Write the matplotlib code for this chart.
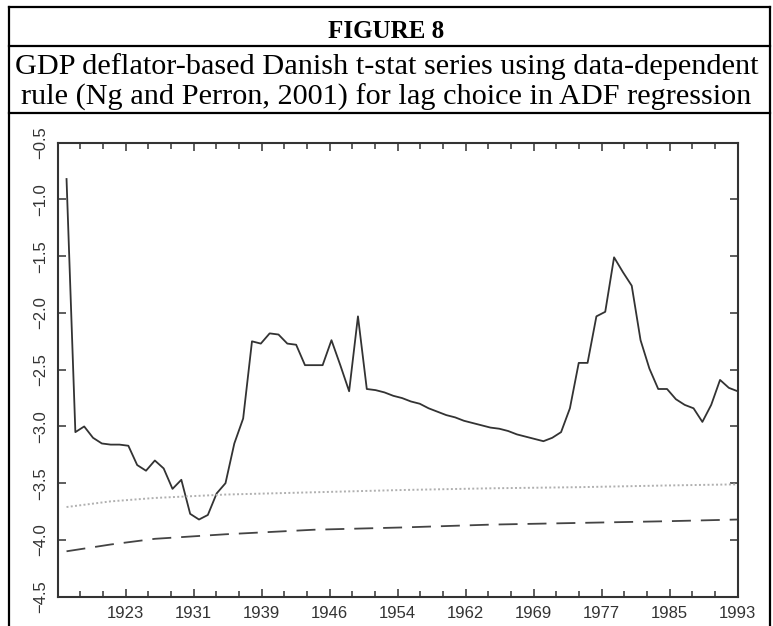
import numpy as np
import matplotlib
matplotlib.use("Agg")
import matplotlib.pyplot as plt
from matplotlib.lines import Line2D
from matplotlib.ticker import FixedLocator

# t-stat series, one value a year, 1917-1993
years = list(range(1917, 1994))
tstat = [-0.82, -3.05, -3.00, -3.10, -3.15, -3.16, -3.16, -3.17, -3.34, -3.39,
         -3.30, -3.37, -3.55, -3.47, -3.77, -3.82, -3.78, -3.59, -3.50, -3.15,
         -2.93, -2.25, -2.27, -2.18, -2.19, -2.27, -2.28, -2.46, -2.46, -2.46,
         -2.24, -2.46, -2.69, -2.03, -2.67, -2.68, -2.70, -2.73, -2.75, -2.78,
         -2.80, -2.84, -2.87, -2.90, -2.92, -2.95, -2.97, -2.99, -3.01, -3.02,
         -3.04, -3.07, -3.09, -3.11, -3.13, -3.10, -3.05, -2.84, -2.44, -2.44,
         -2.03, -1.99, -1.51, -1.64, -1.76, -2.24, -2.49, -2.67, -2.67, -2.76,
         -2.81, -2.84, -2.96, -2.81, -2.59, -2.66, -2.69]

# critical value curves
cv_years = [1917, 1922, 1927, 1935, 1945, 1955, 1965, 1975, 1985, 1993]
cv_dotted = [-3.71, -3.66, -3.63, -3.60, -3.58, -3.56, -3.545, -3.535, -3.52, -3.51]
cv_dashed = [-4.10, -4.04, -3.99, -3.95, -3.91, -3.89, -3.865, -3.85, -3.835, -3.82]

xtick_labels = ['1923', '1931', '1939', '1946', '1954', '1962', '1969', '1977', '1985', '1993']
ytick_values = [-4.5, -4.0, -3.5, -3.0, -2.5, -2.0, -1.5, -1.0, -0.5]

W, H = 773, 626
fig = plt.figure(figsize=(W / 100, H / 100), dpi=100)

def fx(px):
    return px / W

def fy(py):
    return 1 - py / H

# table frame around the figure
for x0, y0, x1, y1 in [(9, 7, 770, 7), (9, 46, 770, 46), (9, 113, 770, 113),
                       (9, 7, 9, 626), (770, 7, 770, 626)]:
    fig.add_artist(Line2D([fx(x0), fx(x1)], [fy(y0), fy(y1)], color='black', lw=1.6,
                          transform=fig.transFigure))

fig.text(0.5, fy(38), "FIGURE 8", ha='center', va='baseline', fontsize=18,
         fontweight='bold', family='Liberation Serif')
fig.text(0.5, fy(74), "GDP deflator-based Danish t-stat series using data-dependent",
         ha='center', va='baseline', fontsize=21.8, family='Liberation Serif')
fig.text(0.5, fy(105), "rule (Ng and Perron, 2001) for lag choice in ADF regression",
         ha='center', va='baseline', fontsize=21.8, family='Liberation Serif')

ax = fig.add_axes([fx(57.7), fy(596.7), fx(737.7) - fx(57.7), fy(142.7) - fy(596.7)])
ax.plot(years, tstat, color='#333333', lw=1.3)
ax.plot(cv_years, cv_dotted, color='#b0b0b0', lw=1.4, linestyle=(0, (1, 1.2)))
ax.plot(cv_years, cv_dashed, color='#444444', lw=1.3, linestyle=(0, (10.5, 5.5)))

ax.set_xlim(1916, 1993)
ax.set_ylim(-4.5, -0.5)

major = np.linspace(1916, 1993, 11)[1:]
ax.xaxis.set_major_locator(FixedLocator(major))
ax.set_xticklabels(xtick_labels)
ax.xaxis.set_minor_locator(FixedLocator(np.linspace(1916, 1993, 31)))
ax.set_yticks(ytick_values)
ax.set_yticklabels([f"\u2212{abs(v):.1f}" for v in ytick_values], rotation=90, va='center')

ax.tick_params(which='both', direction='in', top=True, right=True, colors='#333333',
               labelsize=12)
ax.tick_params(which='major', length=6, width=1.1)
ax.tick_params(which='minor', length=4, width=1.1)
ax.tick_params(axis='x', pad=7)
ax.tick_params(axis='y', pad=7)
for lab in ax.get_xticklabels() + ax.get_yticklabels():
    lab.set_family('Liberation Sans')
for sp in ax.spines.values():
    sp.set_linewidth(1.5)
    sp.set_color('#333333')

fig.savefig("out.png", dpi=100)
